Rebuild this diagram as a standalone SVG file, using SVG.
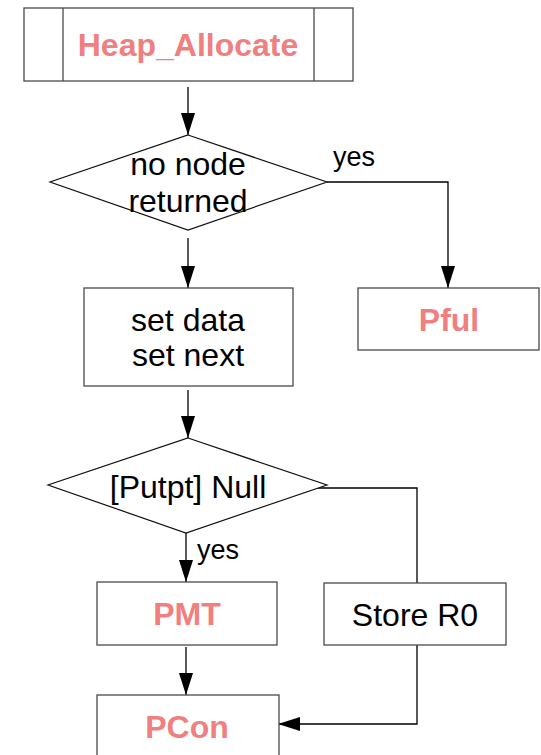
<svg xmlns="http://www.w3.org/2000/svg" width="541" height="755" viewBox="0 0 541 755">
<defs>
<style>
.box{fill:#fff;stroke:#4a4a4a;stroke-width:1.3}
.dia{fill:#fff;stroke:#111;stroke-width:1.2}
.t{font-family:"Liberation Sans",Arial,sans-serif;font-size:32px;fill:#000;text-anchor:middle}
.p{font-family:"Liberation Sans",Arial,sans-serif;font-size:32px;font-weight:bold;fill:#f08080;text-anchor:middle}
.lbl{font-family:"Liberation Sans",Arial,sans-serif;font-size:27px;fill:#000}
.c{fill:none;stroke:#000;stroke-width:1.3}
</style>
<marker id="ah" viewBox="0 0 22 14" refX="22" refY="7" markerWidth="22" markerHeight="14" markerUnits="userSpaceOnUse" orient="auto">
<path d="M0,0 L22,7 L0,14 Z" fill="#000"/>
</marker>
</defs>
<rect width="541" height="755" fill="#fff"/>
<g id="connectors">
<line class="c" x1="188" y1="87" x2="188" y2="135" marker-end="url(#ah)"/>
<polyline class="c" points="327,182 448,182 448,288" marker-end="url(#ah)"/>
<line class="c" x1="188" y1="238" x2="188" y2="288" marker-end="url(#ah)"/>
<line class="c" x1="188" y1="390" x2="188" y2="438" marker-end="url(#ah)"/>
<polyline class="c" points="317,488 417,488 417,583"/>
<line class="c" x1="186" y1="533" x2="186" y2="582" marker-end="url(#ah)"/>
<line class="c" x1="186" y1="647" x2="186" y2="695" marker-end="url(#ah)"/>
<polyline class="c" points="417,645 417,724 278,724" marker-end="url(#ah)"/>
<text class="lbl" x="333" y="166">yes</text>
<text class="lbl" x="197" y="559">yes</text>
</g>
<g id="heap_allocate">
<rect class="box" x="24" y="8" width="329" height="73"/>
<line class="box" x1="63" y1="8" x2="63" y2="81"/>
<line class="box" x1="314" y1="8" x2="314" y2="81"/>
<text class="p" x="188" y="56">Heap_Allocate</text>
</g>
<g id="no_node_returned">
<polygon class="dia" points="188,135 327,182 188,230 50,182"/>
<text class="t" x="188" y="175">no node</text>
<text class="t" x="188" y="212">returned</text>
</g>
<g id="pful">
<rect class="box" x="358" y="288" width="181" height="62"/>
<text class="p" x="449" y="331">Pful</text>
</g>
<g id="set_data">
<rect class="box" x="84" y="288" width="209" height="98"/>
<text class="t" x="188" y="331">set data</text>
<text class="t" x="188" y="366">set next</text>
</g>
<g id="putpt_null">
<polygon class="dia" points="188,438 327,485 186,533 48,485"/>
<text class="t" x="188" y="498">[Putpt] Null</text>
</g>
<g id="pmt">
<rect class="box" x="97" y="582" width="180" height="63"/>
<text class="p" x="187" y="625">PMT</text>
</g>
<g id="store_r0">
<rect class="box" x="324" y="583" width="182" height="62"/>
<text class="t" x="415" y="626">Store R0</text>
</g>
<g id="pcon">
<rect class="box" x="97" y="695" width="182" height="70"/>
<text class="p" x="187" y="738">PCon</text>
</g>
</svg>
